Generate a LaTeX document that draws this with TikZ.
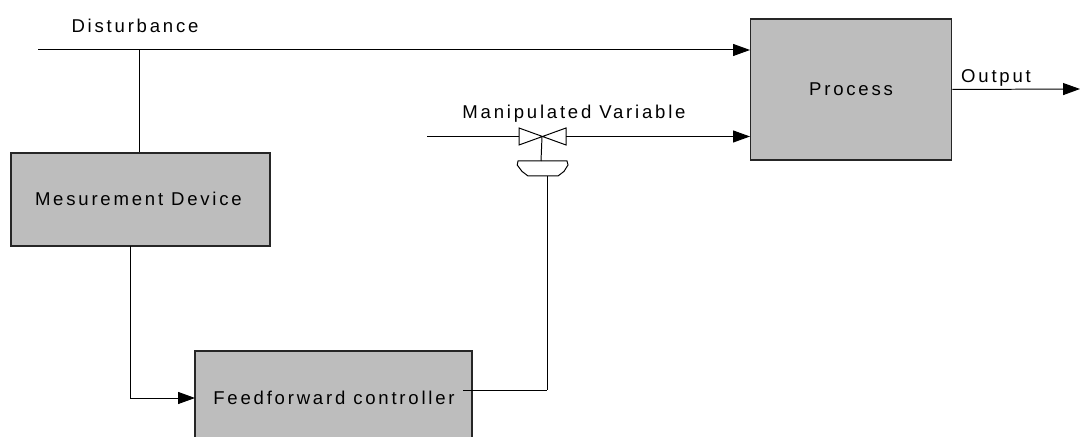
\documentclass[tikz,border=0pt]{standalone}
\usepackage{fontspec}
\setmainfont[LetterSpace=15]{Liberation Sans}
\usepackage{tikz}
\usetikzlibrary{arrows.meta}
\definecolor{boxgray}{HTML}{BDBDBD}
\tikzset{
	blockbox/.style={draw=black!85, line width=0.9pt, fill=boxgray, align=center, font=\fontsize{13.2}{16}\selectfont},
	signal/.style={draw=black, line width=0.7pt},
	flowtip/.style={-{Triangle[length=12pt,width=8.5pt]}},
	tag/.style={align=center, font=\fontsize{13.2}{16}\selectfont}
}

\begin{document}
\begin{tikzpicture}
	\useasboundingbox (0,0) rectangle (27,10.925);
	\clip (0,0) rectangle (27,10.925);

	\node[blockbox, minimum width=5.04cm, minimum height=3.525cm] at (21.275,8.6875) (process) {Process};
	\node[blockbox, minimum width=6.475cm, minimum height=2.325cm] at (3.5125,5.9375) (measurement) {};
	\node[tag] at (3.46,5.95) (measurement-text) {Mesurement Device};
	\node[blockbox, minimum width=6.925cm, minimum height=2.225cm] at (8.3375,1.0375) (controller) {};
	\node[tag] at (8.35,0.99) (controller-text) {Feedforward controller};

	\coordinate (disturbance-in) at (0.95,9.675);
	\coordinate (disturbance-tap) at (3.475,9.675);
	\coordinate (process-top) at (18.75,9.675);
	\coordinate (valve-in) at (10.675,7.5125);
	\coordinate (valve) at (13.55,7.5125);
	\coordinate (valve-left) at (12.975,7.5125);
	\coordinate (valve-right) at (14.15,7.5125);
	\coordinate (process-low) at (18.75,7.5125);
	\coordinate (output-end) at (27,8.7);
	\coordinate (stem-end) at (13.525,6.9);
	\coordinate (act-in) at (13.675,6.525);
	\coordinate (controller-out) at (11.575,1.175);
	\coordinate (corner-out) at (13.675,1.175);
	\coordinate (measure-out) at (3.25,4.775);
	\coordinate (corner-in) at (3.25,0.975);
	\coordinate (controller-in) at (4.875,0.975);

	% disturbance feed and tap
	\draw[signal, flowtip] (disturbance-in) to (process-top);
	\draw[signal] (disturbance-tap) to (disturbance-tap |- measurement.north);
	\node[tag] at (3.375,10.275) (disturbance-text) {Disturbance};

	% measurement to controller
	\draw[signal] (measure-out) to (corner-in);
	\draw[signal, flowtip] (corner-in) to (controller-in);

	% controller to actuator
	\draw[signal] (controller-out) to (corner-out);
	\draw[signal] (corner-out) to (act-in);

	% valve line
	\draw[signal] (valve-in) to (valve-left);
	\draw[signal, flowtip] (valve-right) to (process-low);
	\draw[signal] (12.975,7.725) -- (14.15,7.3) -- (14.15,7.725) -- (12.975,7.3) -- cycle;
	\draw[signal] (valve) to (stem-end);
	\draw[signal] (12.95,6.9) -- (14.175,6.9) -- (14.2,6.8) -- (14.1,6.64) -- (13.95,6.525) -- (13.2,6.525) -- (13.05,6.64) -- (12.93,6.8) -- cycle;
	\node[tag] at (14.35,8.075) (manipulated-text) {Manipulated Variable};

	% output
	\draw[signal, flowtip] (process.east) to (output-end);
	\node[tag] at (24.9,8.975) (output-text) {Output};
\end{tikzpicture}
\end{document}
